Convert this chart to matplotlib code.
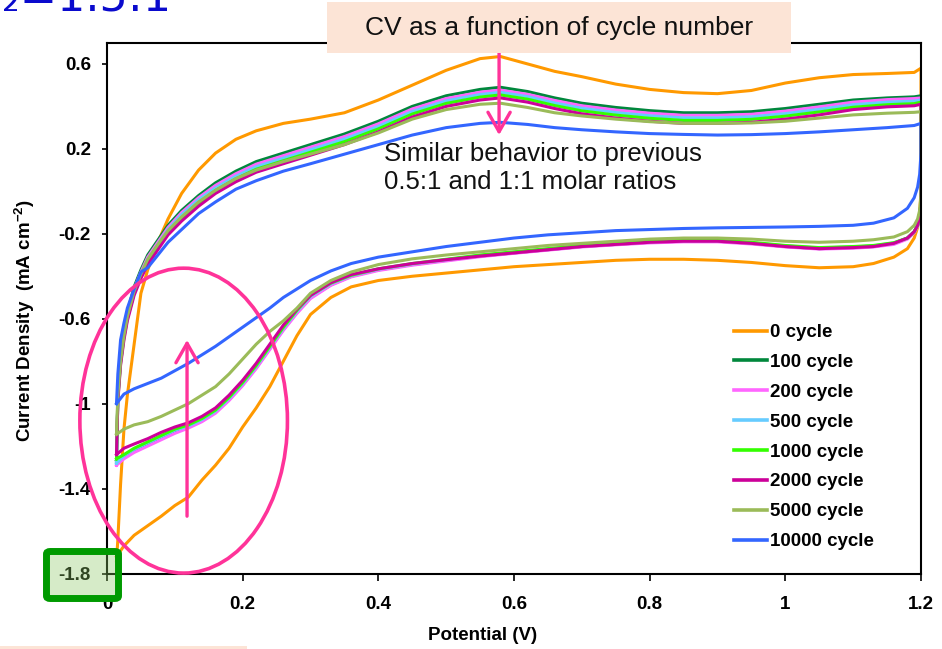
'''
cv_cycles
-----------------------------------------------------------
CV curves versus cycle number, 1.5:1 molar ratio
'''
# Load packages -------------------------------------------
import matplotlib
matplotlib.use('Agg')
import matplotlib.pyplot as plt
from matplotlib.patches import Ellipse, Rectangle, FancyBboxPatch
from matplotlib.lines import Line2D

# Data ----------------------------------------------------
# Potential grid, anodic sweep (V):
v_fwd = [0.014, 0.016, 0.02, 0.025, 0.03, 0.04, 0.05, 0.06, 0.075, 0.09,
         0.11, 0.135, 0.16, 0.19, 0.22, 0.26, 0.30, 0.35, 0.40, 0.45,
         0.50, 0.55, 0.58, 0.62, 0.66, 0.70, 0.75, 0.80, 0.85, 0.90,
         0.95, 1.00, 1.05, 1.10, 1.15, 1.19, 1.20]

# Potential grid, cathodic sweep (V):
v_rev = [1.20, 1.20, 1.198, 1.195, 1.19, 1.18, 1.16, 1.13, 1.10, 1.05,
         1.00, 0.95, 0.90, 0.85, 0.80, 0.75, 0.70, 0.65, 0.60, 0.55,
         0.50, 0.45, 0.40, 0.36, 0.33, 0.30, 0.28, 0.26, 0.24, 0.22,
         0.20, 0.18, 0.16, 0.14, 0.12, 0.10, 0.08, 0.06, 0.04, 0.025, 0.014]

# Current density (mA cm-2), anodic sweep:
i0_fwd = [-1.74, -1.64, -1.38, -1.12, -0.96, -0.72, -0.48, -0.37, -0.24, -0.13,
          -0.01, 0.10, 0.18, 0.245, 0.285, 0.32, 0.34, 0.37, 0.43, 0.50,
          0.57, 0.625, 0.635, 0.60, 0.565, 0.54, 0.505, 0.48, 0.465, 0.46,
          0.475, 0.51, 0.535, 0.55, 0.555, 0.56, 0.58]
i100_fwd = [-1.27, -0.95, -0.78, -0.66, -0.57, -0.45, -0.37, -0.30, -0.23, -0.16,
            -0.09, -0.02, 0.04, 0.095, 0.14, 0.18, 0.22, 0.27, 0.33, 0.40,
            0.45, 0.48, 0.49, 0.47, 0.44, 0.415, 0.395, 0.38, 0.37, 0.37,
            0.375, 0.39, 0.41, 0.43, 0.44, 0.445, 0.45]
i200_fwd = [-1.29, -0.97, -0.79, -0.67, -0.58, -0.46, -0.38, -0.31, -0.24, -0.17,
            -0.10, -0.03, 0.028, 0.083, 0.128, 0.168, 0.208, 0.258, 0.318, 0.388,
            0.437, 0.467, 0.477, 0.457, 0.428, 0.403, 0.383, 0.368, 0.358, 0.358,
            0.363, 0.378, 0.398, 0.42, 0.432, 0.437, 0.44]
i500_fwd = [-1.28, -0.97, -0.80, -0.68, -0.59, -0.47, -0.39, -0.32, -0.25, -0.18,
            -0.11, -0.04, 0.016, 0.071, 0.116, 0.156, 0.196, 0.246, 0.306, 0.376,
            0.426, 0.456, 0.466, 0.446, 0.416, 0.391, 0.371, 0.356, 0.346, 0.346,
            0.351, 0.366, 0.386, 0.408, 0.42, 0.425, 0.43]
i1000_fwd = [-1.26, -0.98, -0.81, -0.69, -0.60, -0.48, -0.40, -0.33, -0.26, -0.19,
             -0.125, -0.055, 0.004, 0.059, 0.104, 0.144, 0.184, 0.234, 0.294, 0.364,
             0.414, 0.444, 0.454, 0.434, 0.404, 0.379, 0.359, 0.344, 0.334, 0.334,
             0.339, 0.354, 0.374, 0.396, 0.408, 0.413, 0.42]
i2000_fwd = [-1.24, -0.99, -0.82, -0.70, -0.61, -0.49, -0.41, -0.345, -0.275, -0.205,
             -0.14, -0.07, -0.01, 0.045, 0.09, 0.13, 0.17, 0.22, 0.28, 0.35,
             0.40, 0.43, 0.44, 0.42, 0.39, 0.365, 0.345, 0.33, 0.32, 0.32,
             0.325, 0.34, 0.36, 0.385, 0.398, 0.403, 0.41]
i5000_fwd = [-1.14, -0.96, -0.80, -0.68, -0.59, -0.47, -0.39, -0.32, -0.25, -0.185,
             -0.12, -0.05, 0.005, 0.06, 0.10, 0.14, 0.175, 0.22, 0.275, 0.34,
             0.385, 0.41, 0.415, 0.395, 0.37, 0.355, 0.34, 0.328, 0.32, 0.32,
             0.322, 0.33, 0.345, 0.36, 0.368, 0.372, 0.375]
i10000_fwd = [-1.00, -0.86, -0.70, -0.62, -0.55, -0.46, -0.38, -0.36, -0.30, -0.24,
              -0.18, -0.105, -0.05, 0.01, 0.05, 0.095, 0.13, 0.175, 0.22, 0.265,
              0.30, 0.32, 0.325, 0.315, 0.30, 0.29, 0.28, 0.272, 0.268, 0.265,
              0.267, 0.272, 0.28, 0.29, 0.30, 0.31, 0.32]

# Current density (mA cm-2), cathodic sweep:
i0_rev = [0.30, 0.00, -0.10, -0.17, -0.22, -0.27, -0.31, -0.34, -0.355, -0.36,
          -0.35, -0.335, -0.325, -0.32, -0.32, -0.325, -0.335, -0.345, -0.355, -0.37,
          -0.385, -0.40, -0.42, -0.45, -0.50, -0.58, -0.68, -0.80, -0.92, -1.02,
          -1.11, -1.21, -1.29, -1.36, -1.44, -1.48, -1.53, -1.575, -1.62, -1.67, -1.72]
i100_rev = [0.20, -0.05, -0.12, -0.16, -0.19, -0.22, -0.245, -0.26, -0.265, -0.27,
            -0.26, -0.245, -0.235, -0.235, -0.24, -0.25, -0.26, -0.275, -0.29, -0.305,
            -0.325, -0.345, -0.37, -0.40, -0.44, -0.50, -0.57, -0.65, -0.74, -0.83,
            -0.91, -0.98, -1.04, -1.08, -1.11, -1.13, -1.16, -1.19, -1.22, -1.25, -1.27]
i200_rev = [0.19, -0.06, -0.125, -0.165, -0.195, -0.225, -0.25, -0.262, -0.268, -0.272,
            -0.262, -0.248, -0.238, -0.238, -0.243, -0.252, -0.262, -0.277, -0.292, -0.308,
            -0.328, -0.348, -0.373, -0.403, -0.443, -0.505, -0.575, -0.655, -0.745, -0.835,
            -0.915, -0.985, -1.045, -1.085, -1.115, -1.14, -1.17, -1.20, -1.23, -1.26, -1.29]
i500_rev = [0.19, -0.05, -0.12, -0.16, -0.19, -0.22, -0.243, -0.257, -0.262, -0.267,
            -0.257, -0.243, -0.233, -0.233, -0.238, -0.247, -0.257, -0.272, -0.287, -0.302,
            -0.322, -0.342, -0.367, -0.397, -0.435, -0.495, -0.565, -0.645, -0.735, -0.825,
            -0.905, -0.975, -1.035, -1.075, -1.105, -1.125, -1.155, -1.185, -1.215, -1.245, -1.28]
i1000_rev = [0.18, -0.05, -0.12, -0.16, -0.19, -0.22, -0.242, -0.255, -0.26, -0.265,
             -0.255, -0.24, -0.23, -0.23, -0.235, -0.245, -0.255, -0.27, -0.285, -0.30,
             -0.32, -0.34, -0.365, -0.395, -0.432, -0.49, -0.56, -0.64, -0.73, -0.82,
             -0.90, -0.97, -1.03, -1.07, -1.10, -1.12, -1.15, -1.18, -1.21, -1.24, -1.26]
i2000_rev = [0.17, -0.05, -0.12, -0.16, -0.19, -0.22, -0.245, -0.26, -0.265, -0.27,
             -0.26, -0.245, -0.235, -0.235, -0.24, -0.25, -0.26, -0.275, -0.29, -0.305,
             -0.322, -0.34, -0.365, -0.392, -0.43, -0.49, -0.555, -0.63, -0.72, -0.81,
             -0.89, -0.96, -1.02, -1.06, -1.09, -1.11, -1.135, -1.165, -1.19, -1.21, -1.24]
i5000_rev = [0.15, -0.02, -0.09, -0.13, -0.16, -0.19, -0.215, -0.228, -0.235, -0.24,
             -0.235, -0.225, -0.22, -0.22, -0.225, -0.235, -0.245, -0.255, -0.27, -0.285,
             -0.30, -0.318, -0.345, -0.38, -0.42, -0.48, -0.55, -0.61, -0.66, -0.72,
             -0.79, -0.86, -0.92, -0.96, -1.00, -1.03, -1.06, -1.085, -1.10, -1.12, -1.145]
i10000_rev = [0.28, 0.18, 0.08, 0.02, -0.03, -0.08, -0.125, -0.15, -0.16, -0.165,
              -0.168, -0.17, -0.172, -0.175, -0.18, -0.185, -0.195, -0.205, -0.22, -0.24,
              -0.26, -0.285, -0.31, -0.34, -0.375, -0.42, -0.46, -0.50, -0.55, -0.595,
              -0.64, -0.685, -0.73, -0.77, -0.81, -0.845, -0.88, -0.905, -0.93, -0.955, -1.0]

# Series labels and colours:
labels = ['0 cycle', '100 cycle', '200 cycle', '500 cycle',
          '1000 cycle', '2000 cycle', '5000 cycle', '10000 cycle']
colors = ['#FF9900', '#00873C', '#FF66FF', '#66CCFF',
          '#33FF00', '#CC0099', '#9BBB59', '#3366FF']
fwd_sets = [i0_fwd, i100_fwd, i200_fwd, i500_fwd,
            i1000_fwd, i2000_fwd, i5000_fwd, i10000_fwd]
rev_sets = [i0_rev, i100_rev, i200_rev, i500_rev,
            i1000_rev, i2000_rev, i5000_rev, i10000_rev]

# Axis ticks:
x_ticks = [0, 0.2, 0.4, 0.6, 0.8, 1.0, 1.2]
x_tick_labels = ['0', '0.2', '0.4', '0.6', '0.8', '1', '1.2']
y_ticks = [0.6, 0.2, -0.2, -0.6, -1.0, -1.4, -1.8]
y_tick_labels = ['0.6', '0.2', '-0.2', '-0.6', '-1', '-1.4', '-1.8']

# Style ---------------------------------------------------
plt.rcParams['font.family'] = ['Liberation Sans', 'DejaVu Sans']
plt.rcParams['axes.unicode_minus'] = False
plt.rcParams['mathtext.fontset'] = 'custom'
plt.rcParams['mathtext.rm'] = 'Liberation Sans:bold'
plt.rcParams['mathtext.bf'] = 'Liberation Sans:bold'

W, H = 942, 649
pink = '#FF3399'
peach = '#FCE4D6'


def fx(px):
    return px / W


def fy(py):
    return 1 - py / H


# Initialize figure and axis:
fig = plt.figure(figsize=(W / 100, H / 100), dpi=100)
ax = fig.add_axes([fx(107), fy(573.5), (921 - 107) / W, (573.5 - 42.7) / H])

# Plot curves ---------------------------------------------
handles = []
for lab, col, i_f, i_r in zip(labels, colors, fwd_sets, rev_sets):
    ax.plot(v_fwd + v_rev, i_f + i_r, '-', color=col, linewidth=2.2,
            solid_joinstyle='round')
    handles.append(Line2D([], [], color=col, linewidth=2.6, label=lab))

# Axis settings -------------------------------------------
ax.set_xlim(0, 1.2)
ax.set_ylim(-1.8, 0.7)
ax.set_xticks(x_ticks)
ax.set_xticklabels(x_tick_labels)
ax.set_yticks(y_ticks)
ax.set_yticklabels(y_tick_labels)
for side in ['left', 'right', 'top', 'bottom']:
    ax.spines[side].set_linewidth(1.5)
ax.tick_params('x', direction='out', length=5, width=1.2, pad=11)
ax.tick_params('y', direction='out', length=3.6, width=1.2, pad=8)
for tick in ax.get_xticklabels() + ax.get_yticklabels():
    tick.set_fontsize(13.5)
    tick.set_fontweight('bold')

fig.text(fx(483), fy(636), 'Potential (V)', fontsize=13.5, fontweight='bold',
         ha='center', va='center')
fig.text(fx(25), fy(321), 'Current Density  (mA cm$^{\\mathbf{-2}}$)',
         fontsize=13.5, fontweight='bold', rotation=90, ha='center', va='center')

# Legend:
ax.legend(handles=handles, loc='upper left',
          bbox_to_anchor=(fx(734), fy(324)), bbox_transform=fig.transFigure,
          frameon=False, prop={'size': 13.5, 'weight': 'bold'},
          handlelength=1.75, handletextpad=0.15, labelspacing=0.68,
          borderpad=0, borderaxespad=0)

# Annotations ---------------------------------------------
# Pink ellipse round the low-potential region:
ax.add_patch(Ellipse((0.113, -1.08), 0.306, 1.436, fill=False,
                     edgecolor=pink, linewidth=2.6, clip_on=False, zorder=6))

# Upward arrow inside the ellipse:
ax.annotate('', xy=(0.118, -0.70), xytext=(0.118, -1.53),
            arrowprops=dict(arrowstyle='->,head_length=0.7,head_width=0.4',
                            color=pink, lw=2.4, mutation_scale=20,
                            shrinkA=0, shrinkB=0), zorder=7)

# Downward arrow from the title box:
ax.annotate('', xy=(0.578, 0.265), xytext=(0.578, 0.66),
            arrowprops=dict(arrowstyle='->,head_length=0.7,head_width=0.4',
                            color=pink, lw=2.4, mutation_scale=20,
                            shrinkA=0, shrinkB=0), zorder=7,
            annotation_clip=False)

# Note text:
fig.text(fx(384), fy(168), 'Similar behavior to previous\n0.5:1 and 1:1 molar ratios',
         fontsize=18.5, ha='left', va='center', linespacing=1.25, color='#111111',
         family=['Liberation Sans', 'DejaVu Sans'])

# Title box:
fig.add_artist(Rectangle((fx(327), fy(53)), (791 - 327) / W, 51 / H,
                         transform=fig.transFigure, facecolor=peach,
                         edgecolor='none', zorder=5))
fig.text(fx(559), fy(28), 'CV as a function of cycle number', fontsize=19,
         ha='center', va='center', color='#111111', zorder=6)

# Peach strip at the lower left:
fig.add_artist(Rectangle((0, 0), 247 / W, 3.5 / H, transform=fig.transFigure,
                         facecolor=peach, edgecolor='none', zorder=5))

# Green highlight box on the lowest y tick:
fig.add_artist(FancyBboxPatch((fx(46.5), fy(598.5)), (118.5 - 46.5) / W,
                              (598.5 - 551.5) / H,
                              boxstyle='round,pad=0,rounding_size=0.004',
                              transform=fig.transFigure,
                              facecolor=(0.55, 0.78, 0.39, 0.35),
                              edgecolor='#009A00', linewidth=5, zorder=5))

# Partly visible slide heading:
fig.text(fx(172), fy(12), 'O\u2082=1.5:1', fontsize=32, color='#0A0ACD',
         ha='right', va='baseline', family=['DejaVu Sans'])

# Save plot:
plt.savefig('out.png', dpi=100)
